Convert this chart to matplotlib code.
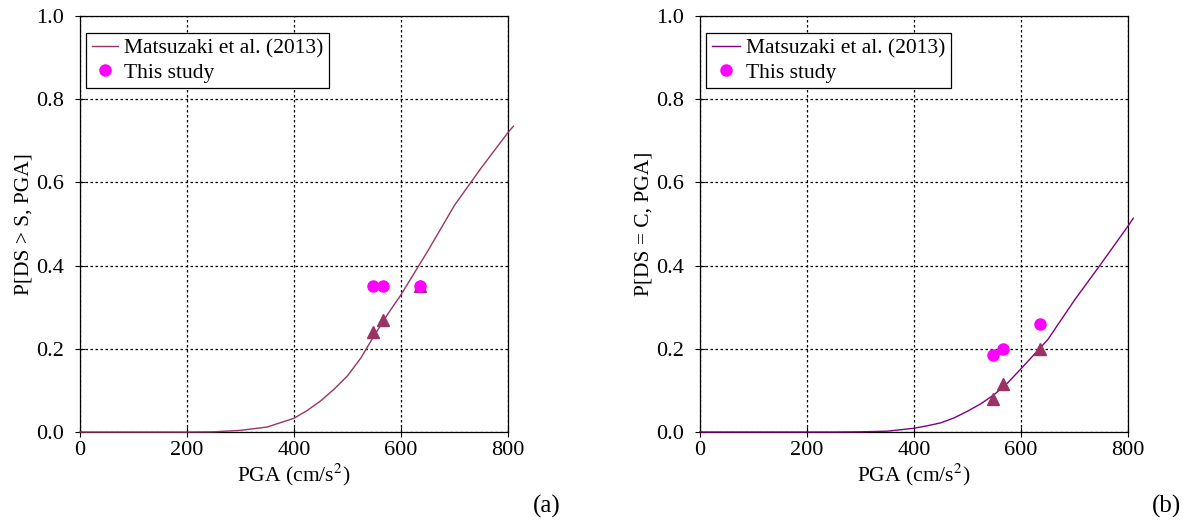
import matplotlib
matplotlib.use("Agg")
import matplotlib.pyplot as plt

plt.rcParams['font.family'] = ['Liberation Serif', 'DejaVu Serif']
plt.rcParams['mathtext.fontset'] = 'stix'

# Fragility curves (Matsuzaki et al. 2013)
curve_pga = [0, 50, 100, 150, 200, 250, 300, 350, 400, 425, 450, 475, 500, 525, 550, 575, 600, 650, 700, 750, 800, 810]
curve_s = [0, 0, 0, 0, 0, 0.0005, 0.004, 0.012, 0.033, 0.052, 0.075, 0.103, 0.135, 0.178, 0.232, 0.283, 0.33, 0.435, 0.545, 0.635, 0.72, 0.735]
curve_c = [0, 0, 0, 0, 0, 0, 0.0005, 0.002, 0.009, 0.015, 0.022, 0.034, 0.05, 0.068, 0.09, 0.118, 0.152, 0.222, 0.317, 0.405, 0.495, 0.514]

# This study
pts_pga = [548, 566, 636]
study_s = [0.35, 0.35, 0.35]
tri_s = [0.24, 0.27, 0.35]
study_c = [0.185, 0.20, 0.26]
tri_c = [0.08, 0.115, 0.20]

fig = plt.figure(figsize=(11.9, 5.21), dpi=100)
ax1 = fig.add_axes([0.0672, 0.1708, 0.3597, 0.7985])
ax2 = fig.add_axes([0.5882, 0.1708, 0.3597, 0.7985])

line_colors = ['#993366', '#800080']
for ax, cy, sy, ty, lc, ylab, tag, hl in [
        (ax1, curve_s, study_s, tri_s, line_colors[0], 'P[DS > S, PGA]', '(a)', 1.2),
        (ax2, curve_c, study_c, tri_c, line_colors[1], 'P[DS = C, PGA]', '(b)', 1.3)]:
    ax.plot(curve_pga, cy, color=lc, lw=1.0, clip_on=False, zorder=3, label='Matsuzaki et al. (2013)')
    ax.plot(pts_pga, ty, linestyle='none', marker='^', ms=9, color='#993366', zorder=4)
    ax.plot(pts_pga, sy, linestyle='none', marker='o', ms=8, color='#FF00FF', zorder=5, label='This study')
    ax.set_xlim(0, 800)
    ax.set_ylim(0, 1.0)
    ax.set_xticks([0, 200, 400, 600, 800])
    ax.set_yticks([0, 0.2, 0.4, 0.6, 0.8, 1.0])
    ax.set_yticklabels(['0.0', '0.2', '0.4', '0.6', '0.8', '1.0'])
    ax.grid(True, color='black', linestyle=(0, (2, 2)), linewidth=0.9)
    ax.tick_params(labelsize=16, direction='inout', length=7)
    ax.tick_params(axis='y', pad=8)
    ax.tick_params(axis='x', pad=3)
    ax.set_xlabel('PGA (cm/s$^2$)', fontsize=15.5, labelpad=1)
    ax.set_ylabel(ylab, fontsize=15.5, labelpad=2)
    for sp in ax.spines.values():
        sp.set_linewidth(0.9)
    leg = ax.legend(loc='upper left', fontsize=15.5, frameon=True, fancybox=False,
                    edgecolor='black', framealpha=1, borderpad=0.25, labelspacing=0.2,
                    handlelength=hl, handletextpad=0.3, borderaxespad=0.3,
                    bbox_to_anchor=(0.0, 0.975))
    leg.get_frame().set_linewidth(0.9)
    ax.text(1.09, -0.18, tag, transform=ax.transAxes, fontsize=18, ha='center', va='center')

fig.savefig('out.png', dpi=100)
